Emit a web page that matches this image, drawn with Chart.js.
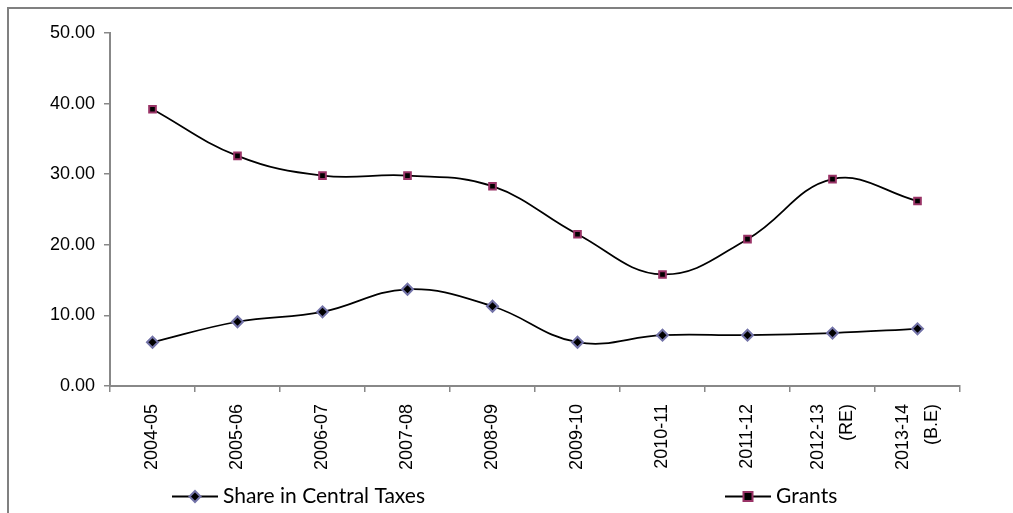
<!DOCTYPE html>
<html>
<head>
<meta charset="utf-8">
<script src="https://cdn.jsdelivr.net/npm/chart.js@4"></script>
<style>
html,body{margin:0;padding:0;background:#fff;}
#wrap{position:relative;width:1013px;height:513px;}
canvas{display:block;}
</style>
</head>
<body>
<div id="wrap"><canvas id="c" width="1013" height="513"></canvas></div>
<script>
const categories = [
  "2004-05","2005-06","2006-07","2007-08","2008-09",
  "2009-10","2010-11","2011-12",["2012-13","(RE)"],["2013-14","(B.E)"]
];
const shareInCentralTaxes = [6.2, 9.1, 10.5, 13.7, 11.3, 6.2, 7.2, 7.2, 7.5, 8.1];
const grants = [39.2, 32.6, 29.8, 29.8, 28.3, 21.5, 15.8, 20.8, 29.3, 26.2];
const yTicks = [0, 10, 20, 30, 40, 50];
const seriesNames = ["Share in Central Taxes", "Grants"];

const TICK_FONT = "'Liberation Sans', Arial, sans-serif";

// centre multi-line rotated category labels on their tick
const centerLabels = {
  id: 'centerLabels',
  beforeDraw(chart) {
    const sc = chart.scales.x;
    const items = sc.getLabelItems();
    items.forEach(it => {
      if (Array.isArray(it.label) && it.label.length > 1 && !it._shifted) {
        const lh = it.font.lineHeight;
        it.options.translation[0] -= (it.label.length - 1) * lh / 2;
        it._shifted = true;
      }
    });
  }
};

const frame = {
  id: 'frame',
  afterDraw(chart) {
    const ctx = chart.ctx;
    ctx.save();
    ctx.strokeStyle = '#808080';
    ctx.lineWidth = 2;
    ctx.beginPath();
    ctx.moveTo(8, 513);
    ctx.lineTo(8, 8);
    ctx.lineTo(1012, 8);
    ctx.stroke();
    // legend
    const items = [
      {x: 172, ds: chart.data.datasets[0]},
      {x: 725, ds: chart.data.datasets[1]}
    ];
    const y = 496.5;
    items.forEach(it => {
      ctx.strokeStyle = '#000';
      ctx.lineWidth = 2;
      ctx.beginPath();
      ctx.moveTo(it.x, y);
      ctx.lineTo(it.x + 46, y);
      ctx.stroke();
      const cx = it.x + 23;
      ctx.fillStyle = it.ds.pointBackgroundColor;
      ctx.strokeStyle = it.ds.pointBorderColor;
      ctx.lineWidth = 2;
      ctx.beginPath();
      if (it.ds.pointStyle === 'rectRot') {
        const r = 5.5;
        ctx.moveTo(cx, y - r); ctx.lineTo(cx + r, y); ctx.lineTo(cx, y + r); ctx.lineTo(cx - r, y); ctx.closePath();
      } else {
        ctx.rect(cx - 4.5, y - 4.5, 9, 9);
      }
      ctx.fill(); ctx.stroke();
      ctx.fillStyle = '#000';
      ctx.font = "21px Lato, 'Open Sans', sans-serif";
      ctx.textBaseline = 'middle';
      ctx.textAlign = 'left';
      ctx.fillText(it.ds.label, it.x + 51, y);
    });
    ctx.restore();
  }
};

new Chart(document.getElementById('c'), {
  type: 'line',
  data: {
    labels: categories,
    datasets: [
      {
        label: seriesNames[0],
        data: shareInCentralTaxes,
        borderColor: '#000',
        borderWidth: 1.75,
        tension: 0.4,
        pointStyle: 'rectRot',
        pointRadius: 5.5,
        pointBackgroundColor: '#000',
        pointBorderColor: '#7373a8',
        pointBorderWidth: 2,
        fill: false
      },
      {
        label: seriesNames[1],
        data: grants,
        borderColor: '#000',
        borderWidth: 1.75,
        tension: 0.4,
        pointStyle: 'rect',
        pointRadius: 4.7,
        pointBackgroundColor: '#000',
        pointBorderColor: '#993366',
        pointBorderWidth: 2,
        fill: false
      }
    ]
  },
  options: {
    responsive: false,
    animation: false,
    devicePixelRatio: 1,
    layout: { padding: { left: 10, top: 33, right: 53, bottom: 0 } },
    plugins: { legend: { display: false }, tooltip: { enabled: false } },
    scales: {
      x: {
        offset: true,
        grid: { drawOnChartArea: false, drawTicks: true, tickLength: 6, color: '#888', offset: true, lineWidth: 1.5 },
        border: { color: '#888', width: 2 },
        ticks: {
          color: '#000', font: { family: TICK_FONT, size: 18, lineHeight: 1.6 },
          minRotation: 90, maxRotation: 90, padding: 12, autoSkip: false
        },
        afterFit(s) { s.height = 127; }
      },
      y: {
        min: 0, max: 50,
        afterBuildTicks(s) { s.ticks = yTicks.map(v => ({ value: v })); },
        grid: { drawOnChartArea: false, drawTicks: true, tickLength: 6, color: '#888', lineWidth: 1.5 },
        border: { color: '#888', width: 2 },
        ticks: {
          color: '#000', font: { family: TICK_FONT, size: 18 },
          padding: 9,
          callback: v => Number(v).toFixed(2)
        },
        afterFit(s) { s.width = 100; }
      }
    }
  },
  plugins: [centerLabels, frame]
});
</script>
</body>
</html>
